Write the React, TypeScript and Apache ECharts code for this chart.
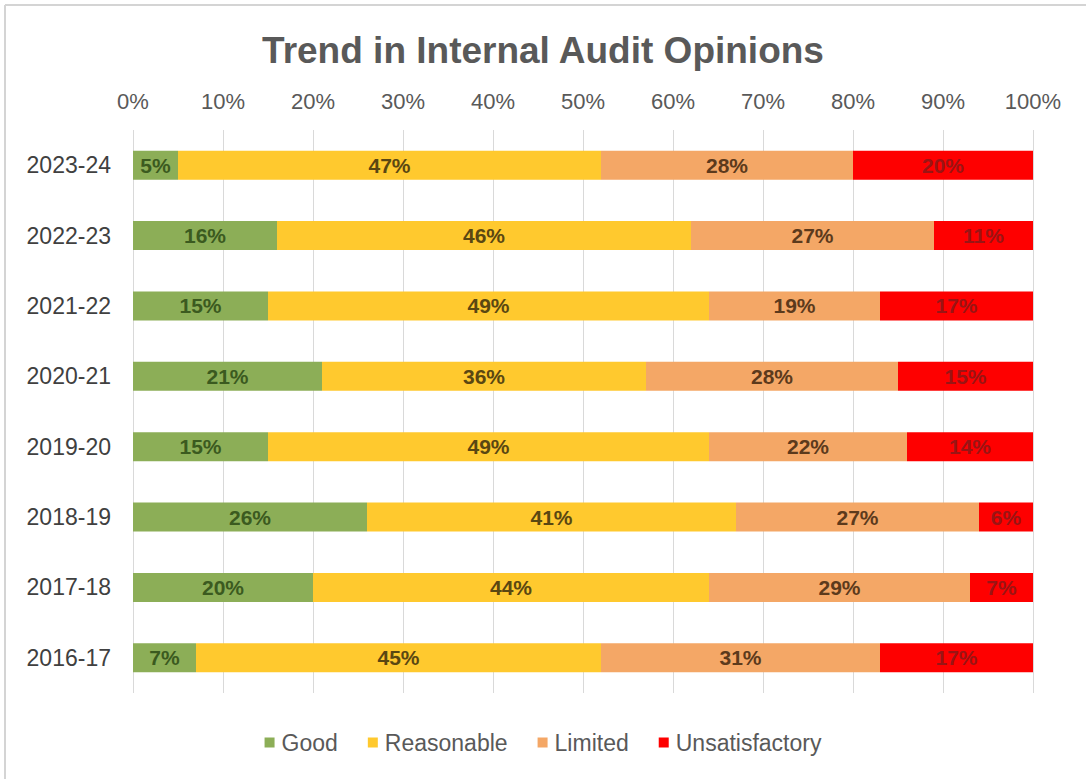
import React, { useEffect, useRef } from "react";
import * as echarts from "echarts";

const categories = ["2023-24", "2022-23", "2021-22", "2020-21", "2019-20", "2018-19", "2017-18", "2016-17"];
const good = [5, 16, 15, 21, 15, 26, 20, 7];
const reasonable = [47, 46, 49, 36, 49, 41, 44, 45];
const limited = [28, 27, 19, 28, 22, 27, 29, 31];
const unsatisfactory = [20, 11, 17, 15, 14, 6, 7, 17];
const seriesNames = ["Good", "Reasonable", "Limited", "Unsatisfactory"];
const seriesColors = ["#8cae57", "#ffc92e", "#f4a766", "#fe0000"];
const labelColors = ["#3b5a1f", "#5a4712", "#5c3a1c", "#9a1414"];

export default function App() {
  const ref = useRef<HTMLDivElement>(null);
  useEffect(() => {
    if (!ref.current) return;
    const chart = echarts.init(ref.current, null, { renderer: "svg" });
    const data = [good, reasonable, limited, unsatisfactory];
    const font = "'Liberation Sans', Arial, sans-serif";
    chart.setOption({
      animation: false,
      backgroundColor: "#ffffff",
      title: {
        text: "Trend in Internal Audit Opinions",
        left: "center",
        top: 27,
        textStyle: { fontFamily: font, fontSize: 37, fontWeight: "bold", color: "#595959" },
      },
      graphic: [
        { type: "line", shape: { x1: 5, y1: 5, x2: 1086, y2: 5 }, style: { stroke: "#d4d4d4", lineWidth: 2 } },
        { type: "line", shape: { x1: 5, y1: 5, x2: 5, y2: 779 }, style: { stroke: "#d4d4d4", lineWidth: 2 } },
      ],
      legend: {
        bottom: 20,
        left: "center",
        itemWidth: 10,
        itemHeight: 10,
        itemGap: 30,
        icon: "rect",
        textStyle: { fontFamily: font, fontSize: 23, color: "#595959", padding: [0, 0, 0, 2] },
        data: seriesNames,
      },
      grid: { left: 133, right: 53, top: 130, bottom: 86 },
      xAxis: {
        type: "value",
        position: "top",
        min: 0,
        max: 100,
        interval: 10,
        axisLabel: { formatter: "{value}%", fontFamily: font, fontSize: 22, color: "#595959", margin: 18 },
        axisLine: { show: false },
        axisTick: { show: false },
        splitLine: { show: true, lineStyle: { color: "#d9d9d9", width: 1 } },
      },
      yAxis: {
        type: "category",
        inverse: true,
        data: categories,
        axisLabel: { fontFamily: font, fontSize: 23, color: "#404040", margin: 22 },
        axisLine: { show: false },
        axisTick: { show: false },
      },
      series: seriesNames.map((name, i) => ({
        name,
        type: "bar",
        stack: "total",
        barWidth: 29,
        itemStyle: { color: seriesColors[i] },
        label: {
          show: true,
          position: "inside",
          formatter: "{c}%",
          fontFamily: font,
          fontSize: 21,
          fontWeight: "bold",
          color: labelColors[i],
        },
        data: data[i],
      })),
    });
    return () => chart.dispose();
  }, []);
  return <div ref={ref} style={{ position: "fixed", left: 0, top: 0, width: 1086, height: 779 }} />;
}
